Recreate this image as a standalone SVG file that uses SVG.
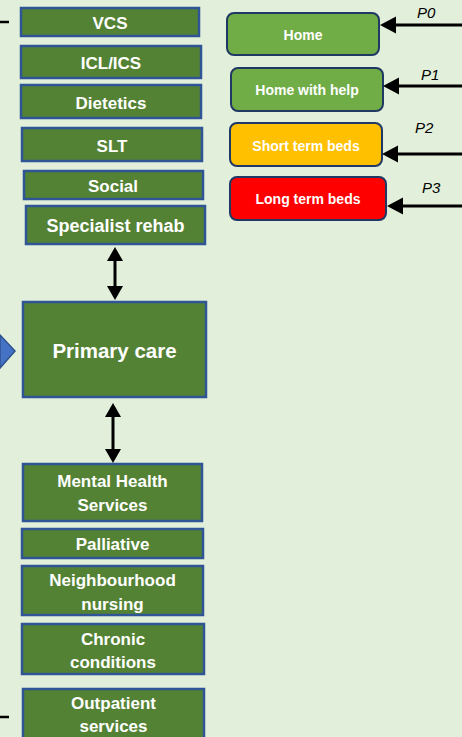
<svg xmlns="http://www.w3.org/2000/svg" width="462" height="737" viewBox="0 0 462 737">
<style>
.sv rect{fill:#548235;stroke:#2F5597;stroke-width:2.5}
.sv text{font-family:"Liberation Sans",Arial,sans-serif;font-weight:bold;font-size:17px;fill:#fff;text-anchor:middle}
.dest rect{stroke:#203864;stroke-width:2}
.dest text{font-family:"Liberation Sans",Arial,sans-serif;font-weight:bold;font-size:14px;fill:#fff;text-anchor:middle}
.pl{font-family:"Liberation Sans",Arial,sans-serif;font-style:italic;font-size:15px;fill:#000}
.ln{stroke:#000;stroke-width:3;fill:none}
.hd{fill:#000}
</style>
<rect x="0" y="0" width="462" height="737" fill="#E2EFDA"/>

<g id="vcs" class="sv"><rect x="21" y="8" width="178" height="28"/><text x="110" y="29">VCS</text></g>
<g id="icl" class="sv"><rect x="21" y="46" width="180" height="32"/><text x="111" y="69">ICL/ICS</text></g>
<g id="dietetics" class="sv"><rect x="21" y="85" width="180" height="33"/><text x="111" y="109">Dietetics</text></g>
<g id="slt" class="sv"><rect x="22" y="128" width="180" height="33"/><text x="112" y="152">SLT</text></g>
<g id="social" class="sv"><rect x="24" y="171" width="179" height="28"/><text x="113" y="192">Social</text></g>
<g id="rehab" class="sv"><rect x="26" y="206" width="179" height="38"/><text x="115.5" y="232" style="font-size:18px">Specialist rehab</text></g>
<g id="primary" class="sv"><rect x="23" y="302" width="183" height="95"/><text x="114.5" y="358" style="font-size:20.5px">Primary care</text></g>
<g id="mental" class="sv"><rect x="23" y="464" width="179" height="57"/><text x="112.5" y="487">Mental Health</text><text x="112.5" y="511">Services</text></g>
<g id="palliative" class="sv"><rect x="22" y="529" width="181" height="29"/><text x="112.5" y="550">Palliative</text></g>
<g id="nursing" class="sv"><rect x="22" y="566" width="181" height="49"/><text x="112.5" y="586">Neighbourhood</text><text x="112.5" y="610">nursing</text></g>
<g id="chronic" class="sv"><rect x="22" y="624" width="182" height="50"/><text x="113" y="645">Chronic</text><text x="113" y="668">conditions</text></g>
<g id="outpatient" class="sv"><rect x="23" y="689" width="181" height="60"/><text x="113.5" y="709">Outpatient</text><text x="113.5" y="732">services</text></g>

<g id="home" class="dest"><rect x="227" y="13" width="152" height="42" rx="7" fill="#70AD47"/><text x="303" y="39.5">Home</text></g>
<g id="homehelp" class="dest"><rect x="231" y="68" width="152" height="43" rx="7" fill="#70AD47"/><text x="307" y="95">Home with help</text></g>
<g id="shortterm" class="dest"><rect x="230" y="123" width="152" height="43" rx="7" fill="#FFC000"/><text x="306" y="150.5">Short term beds</text></g>
<g id="longterm" class="dest"><rect x="230" y="177" width="156" height="43" rx="7" fill="#FF0000"/><text x="308" y="204">Long term beds</text></g>

<g id="inflow">
<polygon points="0,335 15,351 0,368" fill="#4472C4" stroke="#2F528F" stroke-width="1.5"/>
</g>

<g id="connectors">
<line class="ln" x1="0" y1="22" x2="9" y2="22" style="stroke-width:2.5"/>
<line class="ln" x1="0" y1="717" x2="9" y2="717" style="stroke-width:2.5"/>

<line class="ln" x1="394" y1="25" x2="462" y2="25"/>
<polygon class="hd" points="380,25 396,16.5 396,33.5"/>
<line class="ln" x1="397" y1="86" x2="462" y2="86"/>
<polygon class="hd" points="383,86 399,77.5 399,94.5"/>
<line class="ln" x1="396" y1="154" x2="462" y2="154"/>
<polygon class="hd" points="382,154 398,145.5 398,162.5"/>
<line class="ln" x1="401" y1="206" x2="462" y2="206"/>
<polygon class="hd" points="387,206 403,197.5 403,214.5"/>

<line class="ln" x1="115" y1="258" x2="115" y2="289"/>
<polygon class="hd" points="115,247 107,261 123,261"/>
<polygon class="hd" points="115,300 107,286 123,286"/>

<line class="ln" x1="113" y1="414" x2="113" y2="452"/>
<polygon class="hd" points="113,403 105,417 121,417"/>
<polygon class="hd" points="113,463 105,449 121,449"/>
</g>

<g id="labels">
<text class="pl" x="417" y="18">P0</text>
<text class="pl" x="421" y="80">P1</text>
<text class="pl" x="415" y="133">P2</text>
<text class="pl" x="422" y="193">P3</text>
</g>
</svg>
